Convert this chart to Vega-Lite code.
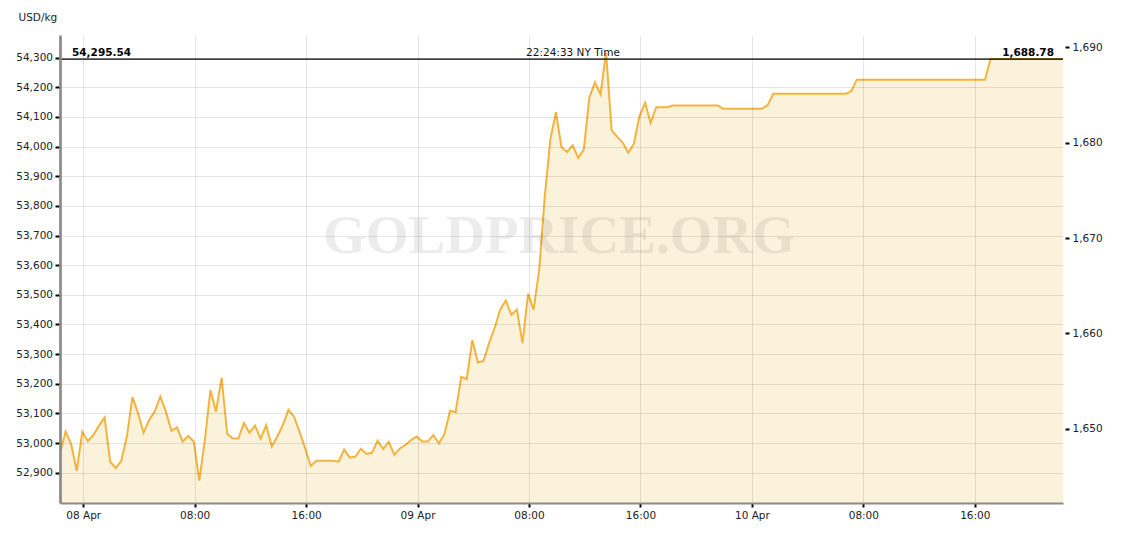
{
  "$schema": "https://vega.github.io/schema/vega-lite/v6.json",
  "width": 1003,
  "height": 468,
  "autosize": "none",
  "padding": {"left": 60, "top": 35, "right": 62, "bottom": 32},
  "background": "white",
  "config": {
    "view": {"stroke": null},
    "font": "DejaVu Sans",
    "axis": {"labelFont": "DejaVu Sans", "labelFontSize": 10.5, "labelColor": "#222", "titleFont": "DejaVu Sans"}
  },
  "datasets": {
    "gold": [
      {"t": "2020-04-07T22:20", "v": 52966},
      {"t": "2020-04-07T22:44", "v": 53038},
      {"t": "2020-04-07T23:08", "v": 52997},
      {"t": "2020-04-07T23:32", "v": 52906},
      {"t": "2020-04-07T23:56", "v": 53038},
      {"t": "2020-04-08T00:20", "v": 53007},
      {"t": "2020-04-08T00:44", "v": 53027},
      {"t": "2020-04-08T01:08", "v": 53059},
      {"t": "2020-04-08T01:32", "v": 53086},
      {"t": "2020-04-08T01:56", "v": 52937},
      {"t": "2020-04-08T02:20", "v": 52915},
      {"t": "2020-04-08T02:44", "v": 52940},
      {"t": "2020-04-08T03:08", "v": 53022},
      {"t": "2020-04-08T03:32", "v": 53155},
      {"t": "2020-04-08T03:56", "v": 53101},
      {"t": "2020-04-08T04:20", "v": 53035},
      {"t": "2020-04-08T04:44", "v": 53078},
      {"t": "2020-04-08T05:08", "v": 53106},
      {"t": "2020-04-08T05:32", "v": 53157},
      {"t": "2020-04-08T05:56", "v": 53106},
      {"t": "2020-04-08T06:20", "v": 53041},
      {"t": "2020-04-08T06:44", "v": 53053},
      {"t": "2020-04-08T07:08", "v": 53005},
      {"t": "2020-04-08T07:32", "v": 53024},
      {"t": "2020-04-08T07:56", "v": 53005},
      {"t": "2020-04-08T08:20", "v": 52873},
      {"t": "2020-04-08T08:44", "v": 53010},
      {"t": "2020-04-08T09:08", "v": 53179},
      {"t": "2020-04-08T09:32", "v": 53106},
      {"t": "2020-04-08T09:56", "v": 53221},
      {"t": "2020-04-08T10:20", "v": 53031},
      {"t": "2020-04-08T10:44", "v": 53015},
      {"t": "2020-04-08T11:08", "v": 53015},
      {"t": "2020-04-08T11:32", "v": 53067},
      {"t": "2020-04-08T11:56", "v": 53035},
      {"t": "2020-04-08T12:20", "v": 53059},
      {"t": "2020-04-08T12:44", "v": 53015},
      {"t": "2020-04-08T13:08", "v": 53060},
      {"t": "2020-04-08T13:32", "v": 52988},
      {"t": "2020-04-08T13:56", "v": 53022},
      {"t": "2020-04-08T14:20", "v": 53061},
      {"t": "2020-04-08T14:44", "v": 53112},
      {"t": "2020-04-08T15:08", "v": 53089},
      {"t": "2020-04-08T15:32", "v": 53038},
      {"t": "2020-04-08T15:56", "v": 52982},
      {"t": "2020-04-08T16:20", "v": 52923},
      {"t": "2020-04-08T16:44", "v": 52940},
      {"t": "2020-04-08T17:08", "v": 52940},
      {"t": "2020-04-08T17:32", "v": 52940},
      {"t": "2020-04-08T17:56", "v": 52940},
      {"t": "2020-04-08T18:20", "v": 52937},
      {"t": "2020-04-08T18:44", "v": 52978},
      {"t": "2020-04-08T19:08", "v": 52951},
      {"t": "2020-04-08T19:32", "v": 52954},
      {"t": "2020-04-08T19:56", "v": 52981},
      {"t": "2020-04-08T20:20", "v": 52963},
      {"t": "2020-04-08T20:44", "v": 52967},
      {"t": "2020-04-08T21:08", "v": 53008},
      {"t": "2020-04-08T21:32", "v": 52980},
      {"t": "2020-04-08T21:56", "v": 53004},
      {"t": "2020-04-08T22:20", "v": 52960},
      {"t": "2020-04-08T22:44", "v": 52982},
      {"t": "2020-04-08T23:08", "v": 52994},
      {"t": "2020-04-08T23:32", "v": 53010},
      {"t": "2020-04-08T23:56", "v": 53022},
      {"t": "2020-04-09T00:20", "v": 53005},
      {"t": "2020-04-09T00:44", "v": 53005},
      {"t": "2020-04-09T01:08", "v": 53027},
      {"t": "2020-04-09T01:32", "v": 52999},
      {"t": "2020-04-09T01:56", "v": 53030},
      {"t": "2020-04-09T02:20", "v": 53109},
      {"t": "2020-04-09T02:44", "v": 53104},
      {"t": "2020-04-09T03:08", "v": 53223},
      {"t": "2020-04-09T03:32", "v": 53216},
      {"t": "2020-04-09T03:56", "v": 53348},
      {"t": "2020-04-09T04:20", "v": 53272},
      {"t": "2020-04-09T04:44", "v": 53277},
      {"t": "2020-04-09T05:08", "v": 53337},
      {"t": "2020-04-09T05:32", "v": 53388},
      {"t": "2020-04-09T05:56", "v": 53450},
      {"t": "2020-04-09T06:20", "v": 53481},
      {"t": "2020-04-09T06:44", "v": 53433},
      {"t": "2020-04-09T07:08", "v": 53450},
      {"t": "2020-04-09T07:32", "v": 53337},
      {"t": "2020-04-09T07:56", "v": 53503},
      {"t": "2020-04-09T08:20", "v": 53450},
      {"t": "2020-04-09T08:44", "v": 53585},
      {"t": "2020-04-09T09:08", "v": 53832},
      {"t": "2020-04-09T09:32", "v": 54024},
      {"t": "2020-04-09T09:56", "v": 54116},
      {"t": "2020-04-09T10:20", "v": 53998},
      {"t": "2020-04-09T10:44", "v": 53982},
      {"t": "2020-04-09T11:08", "v": 54004},
      {"t": "2020-04-09T11:32", "v": 53962},
      {"t": "2020-04-09T11:56", "v": 53990},
      {"t": "2020-04-09T12:20", "v": 54165},
      {"t": "2020-04-09T12:44", "v": 54217},
      {"t": "2020-04-09T13:08", "v": 54176},
      {"t": "2020-04-09T13:32", "v": 54317},
      {"t": "2020-04-09T13:56", "v": 54055},
      {"t": "2020-04-09T14:20", "v": 54033},
      {"t": "2020-04-09T14:44", "v": 54013},
      {"t": "2020-04-09T15:08", "v": 53979},
      {"t": "2020-04-09T15:32", "v": 54010},
      {"t": "2020-04-09T15:56", "v": 54103},
      {"t": "2020-04-09T16:20", "v": 54148},
      {"t": "2020-04-09T16:44", "v": 54080},
      {"t": "2020-04-09T17:08", "v": 54133},
      {"t": "2020-04-09T17:32", "v": 54133},
      {"t": "2020-04-09T17:56", "v": 54133},
      {"t": "2020-04-09T18:20", "v": 54139},
      {"t": "2020-04-09T18:44", "v": 54139},
      {"t": "2020-04-09T19:08", "v": 54139},
      {"t": "2020-04-09T19:32", "v": 54139},
      {"t": "2020-04-09T19:56", "v": 54139},
      {"t": "2020-04-09T20:20", "v": 54139},
      {"t": "2020-04-09T20:44", "v": 54139},
      {"t": "2020-04-09T21:08", "v": 54139},
      {"t": "2020-04-09T21:32", "v": 54139},
      {"t": "2020-04-09T21:56", "v": 54128},
      {"t": "2020-04-09T22:20", "v": 54128},
      {"t": "2020-04-09T22:44", "v": 54128},
      {"t": "2020-04-09T23:08", "v": 54128},
      {"t": "2020-04-09T23:32", "v": 54128},
      {"t": "2020-04-09T23:56", "v": 54128},
      {"t": "2020-04-10T00:20", "v": 54128},
      {"t": "2020-04-10T00:44", "v": 54128},
      {"t": "2020-04-10T01:08", "v": 54140},
      {"t": "2020-04-10T01:32", "v": 54178},
      {"t": "2020-04-10T01:56", "v": 54178},
      {"t": "2020-04-10T02:20", "v": 54178},
      {"t": "2020-04-10T02:44", "v": 54178},
      {"t": "2020-04-10T03:08", "v": 54178},
      {"t": "2020-04-10T03:32", "v": 54178},
      {"t": "2020-04-10T03:56", "v": 54178},
      {"t": "2020-04-10T04:20", "v": 54178},
      {"t": "2020-04-10T04:44", "v": 54178},
      {"t": "2020-04-10T05:08", "v": 54178},
      {"t": "2020-04-10T05:32", "v": 54178},
      {"t": "2020-04-10T05:56", "v": 54178},
      {"t": "2020-04-10T06:20", "v": 54178},
      {"t": "2020-04-10T06:44", "v": 54178},
      {"t": "2020-04-10T07:08", "v": 54187},
      {"t": "2020-04-10T07:32", "v": 54226},
      {"t": "2020-04-10T07:56", "v": 54226},
      {"t": "2020-04-10T08:20", "v": 54226},
      {"t": "2020-04-10T08:44", "v": 54226},
      {"t": "2020-04-10T09:08", "v": 54226},
      {"t": "2020-04-10T09:32", "v": 54226},
      {"t": "2020-04-10T09:56", "v": 54226},
      {"t": "2020-04-10T10:20", "v": 54226},
      {"t": "2020-04-10T10:44", "v": 54226},
      {"t": "2020-04-10T11:08", "v": 54226},
      {"t": "2020-04-10T11:32", "v": 54226},
      {"t": "2020-04-10T11:56", "v": 54226},
      {"t": "2020-04-10T12:20", "v": 54226},
      {"t": "2020-04-10T12:44", "v": 54226},
      {"t": "2020-04-10T13:08", "v": 54226},
      {"t": "2020-04-10T13:32", "v": 54226},
      {"t": "2020-04-10T13:56", "v": 54226},
      {"t": "2020-04-10T14:20", "v": 54226},
      {"t": "2020-04-10T14:44", "v": 54226},
      {"t": "2020-04-10T15:08", "v": 54226},
      {"t": "2020-04-10T15:32", "v": 54226},
      {"t": "2020-04-10T15:56", "v": 54226},
      {"t": "2020-04-10T16:20", "v": 54226},
      {"t": "2020-04-10T16:44", "v": 54226},
      {"t": "2020-04-10T17:08", "v": 54295.54},
      {"t": "2020-04-10T17:32", "v": 54295.54},
      {"t": "2020-04-10T17:56", "v": 54295.54},
      {"t": "2020-04-10T18:20", "v": 54295.54},
      {"t": "2020-04-10T18:44", "v": 54295.54},
      {"t": "2020-04-10T19:08", "v": 54295.54},
      {"t": "2020-04-10T19:32", "v": 54295.54},
      {"t": "2020-04-10T19:56", "v": 54295.54},
      {"t": "2020-04-10T20:20", "v": 54295.54},
      {"t": "2020-04-10T20:44", "v": 54295.54},
      {"t": "2020-04-10T21:08", "v": 54295.54},
      {"t": "2020-04-10T21:32", "v": 54295.54},
      {"t": "2020-04-10T21:56", "v": 54295.54},
      {"t": "2020-04-10T22:20", "v": 54295.54}
    ]
  },
  "resolve": {"axis": {"y": "independent"}},
  "layer": [
    {
      "data": {"name": "gold"},
      "mark": {"type": "area", "color": "#FBF2DC", "opacity": 1, "clip": true},
      "encoding": {
        "x": {
          "field": "t", "type": "temporal", "title": null,
          "scale": {"domain": [
            {"year": 2020, "month": 4, "date": 7, "hours": 22, "minutes": 20},
            {"year": 2020, "month": 4, "date": 10, "hours": 22, "minutes": 20}
          ]},
          "axis": {
            "orient": "bottom",
            "zindex": 1,
            "values": [1586304000000, 1586332800000, 1586361600000, 1586390400000, 1586419200000, 1586448000000, 1586476800000, 1586505600000, 1586534400000],
            "format": "%H:%M",
            "labelExpr": "timeFormat(datum.value, '%H') == '00' ? timeFormat(datum.value, '%d %b') : timeFormat(datum.value, '%H:%M')",
            "grid": true, "gridColor": "#000", "gridOpacity": 0.1, "gridWidth": 1,
            "domainColor": "#8a8a8a", "domainWidth": 2,
            "tickColor": "#000", "tickWidth": 2, "tickSize": 4,
            "labelPadding": 3
          }
        },
        "y": {
          "field": "v", "type": "quantitative",
          "scale": {"domain": [52797.8, 54376.6], "zero": false, "nice": false},
          "axis": {
            "orient": "left",
            "zindex": 1,
            "title": "USD/kg",
            "titleAngle": 0, "titleAlign": "left", "titleBaseline": "alphabetic",
            "titleX": -42, "titleY": -14.5,
            "titleFontSize": 10.5, "titleFontWeight": "normal", "titleColor": "#222",
            "values": [52900, 53000, 53100, 53200, 53300, 53400, 53500, 53600, 53700, 53800, 53900, 54000, 54100, 54200, 54300],
            "format": ",.0f",
            "grid": true, "gridColor": "#000", "gridOpacity": 0.1, "gridWidth": 1,
            "domainColor": "#8a8a8a", "domainWidth": 2.7,
            "tickColor": "#000", "tickWidth": 2, "tickSize": 5,
            "labelPadding": 2.5
          }
        },
        "y2": {"datum": 52797.8}
      }
    },
    {
      "data": {"name": "gold"},
      "mark": {"type": "line", "color": "#F3B33D", "strokeWidth": 2, "clip": true},
      "encoding": {
        "x": {"field": "t", "type": "temporal", "title": null},
        "y": {"field": "v", "type": "quantitative", "axis": null}
      }
    },
    {
      "data": {"values": [{}]},
      "mark": {"type": "text", "text": "GOLDPRICE.ORG", "font": "Liberation Serif", "fontWeight": "bold", "fontSize": 55, "color": "#000", "opacity": 0.07, "align": "center", "baseline": "alphabetic", "dx": -2.5},
      "encoding": {
        "x": {"datum": {"year": 2020, "month": 4, "date": 9, "hours": 10, "minutes": 20}, "type": "temporal", "title": null},
        "y": {"datum": 53640, "type": "quantitative", "axis": null}
      }
    },
    {
      "data": {"values": [{}]},
      "mark": {"type": "rule", "color": "#000", "strokeWidth": 1.3},
      "encoding": {
        "y": {"datum": 54295.54, "type": "quantitative", "axis": null}
      }
    },
    {
      "data": {"values": [{}]},
      "mark": {"type": "text", "text": "54,295.54", "fontWeight": "bold", "fontSize": 10.5, "color": "#000", "align": "left", "baseline": "alphabetic", "dx": 12, "dy": -3},
      "encoding": {
        "x": {"datum": {"year": 2020, "month": 4, "date": 7, "hours": 22, "minutes": 20}, "type": "temporal", "title": null},
        "y": {"datum": 54295.54, "type": "quantitative", "axis": null}
      }
    },
    {
      "data": {"values": [{}]},
      "mark": {"type": "text", "text": "22:24:33 NY Time", "fontSize": 10.5, "color": "#111", "align": "center", "baseline": "alphabetic", "dx": 11.5, "dy": -3},
      "encoding": {
        "x": {"datum": {"year": 2020, "month": 4, "date": 9, "hours": 10, "minutes": 20}, "type": "temporal", "title": null},
        "y": {"datum": 54295.54, "type": "quantitative", "axis": null}
      }
    },
    {
      "data": {"values": [{}]},
      "mark": {"type": "text", "text": "1,688.78", "fontWeight": "bold", "fontSize": 10.5, "color": "#000", "align": "right", "baseline": "alphabetic", "dx": -9, "dy": -3},
      "encoding": {
        "x": {"datum": {"year": 2020, "month": 4, "date": 10, "hours": 22, "minutes": 20}, "type": "temporal", "title": null},
        "y": {
          "datum": 54295.54, "type": "quantitative",
          "axis": {
            "orient": "right",
            "title": null,
            "values": [53048.655, 53370.162, 53691.669, 54013.176, 54334.683],
            "labelExpr": "format(datum.value / 32.1507, ',.0f')",
            "grid": false,
            "domain": false,
            "offset": 2,
            "tickColor": "#000", "tickWidth": 2, "tickSize": 4,
            "labelPadding": 3
          }
        }
      }
    }
  ]
}
